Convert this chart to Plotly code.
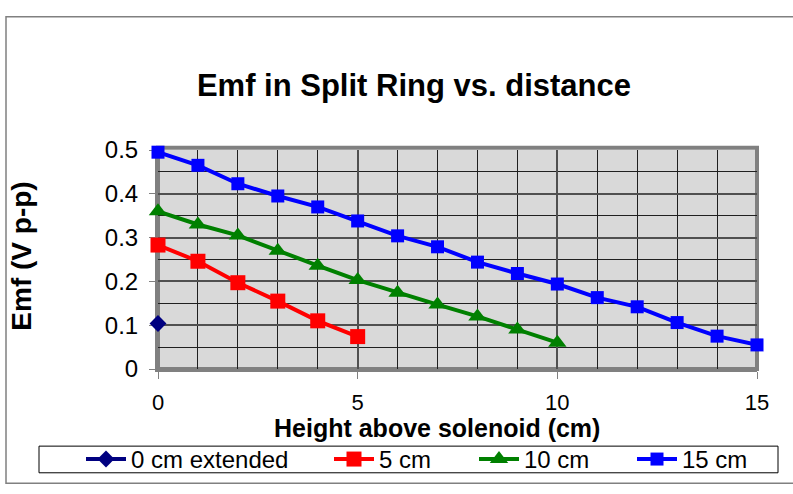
import plotly.graph_objects as go

heights_0 = [0]
emf_0 = [0.104]
heights_5 = [0, 1, 2, 3, 4, 5]
emf_5 = [0.283, 0.246, 0.197, 0.155, 0.11, 0.074]
heights_10 = [0, 1, 2, 3, 4, 5, 6, 7, 8, 9, 10]
emf_10 = [0.36, 0.33, 0.305, 0.27, 0.236, 0.203, 0.174, 0.147, 0.12, 0.09, 0.06]
heights_15 = [0, 1, 2, 3, 4, 5, 6, 7, 8, 9, 10, 11, 12, 13, 14, 15]
emf_15 = [0.495, 0.465, 0.423, 0.395, 0.37, 0.338, 0.304, 0.279, 0.244, 0.218, 0.194, 0.163, 0.142, 0.106, 0.075, 0.055]

x_ticks = [0, 5, 10, 15]
y_ticks = [0, 0.1, 0.2, 0.3, 0.4, 0.5]
y_tick_labels = ["0", "0.1", "0.2", "0.3", "0.4", "0.5"]

names = ["0 cm extended", "5 cm", "10 cm", "15 cm"]
colors = ["#000080", "#FF0000", "#008000", "#0000FF"]
symbols = ["diamond", "square", "triangle-up", "square"]
sizes = [13, 15, 16, 13]
xs = [heights_0, heights_5, heights_10, heights_15]
ys = [emf_0, emf_5, emf_10, emf_15]
legend_ids = ["legend", "legend2", "legend3", "legend4"]
legend_left_px = [81, 329, 474, 632]

W, H = 793, 494
L, R, T, B = 158, 36, 150, 114
PW, PH = W - L - R, H - T - B


def px_x(v):
    return (v - L) / PW


def px_y(v):
    return (H - B - v) / PH


fig = go.Figure()
for n, c, s, sz, x, y, lg in zip(names, colors, symbols, sizes, xs, ys, legend_ids):
    fig.add_trace(go.Scatter(
        x=x, y=y, name=n, mode="lines+markers", legend=lg, cliponaxis=False,
        line=dict(color=c, width=4),
        marker=dict(color=c, symbol=s, size=sz),
    ))

legend_common = dict(orientation="h", yanchor="middle", y=px_y(475), xanchor="left",
                     borderwidth=0, bgcolor="rgba(0,0,0,0)",
                     font=dict(size=24), itemwidth=40)
layout_legends = {}
for lg, lx in zip(legend_ids, legend_left_px):
    layout_legends[lg] = dict(legend_common, x=px_x(lx))

fig.update_layout(
    width=W, height=H,
    margin=dict(l=L, r=R, t=T, b=B),
    paper_bgcolor="white",
    plot_bgcolor="#D9D9D9",
    font=dict(family="Liberation Sans, Arial, sans-serif", color="black"),
    title=dict(text="<b>Emf in Split Ring vs. distance</b>", x=0.522, xanchor="center",
               y=0.828, yanchor="middle", font=dict(size=31)),
    showlegend=True,
    **layout_legends,
)

fig.update_xaxes(
    range=[0, 15], tickmode="array", tickvals=x_ticks, ticktext=[str(v) for v in x_ticks],
    ticks="outside", ticklen=7, tickcolor="#808080", tickfont=dict(size=22),
    ticklabelstandoff=5, layer="below traces",
    showgrid=True, gridcolor="#505050", gridwidth=2,
    minor=dict(dtick=1, showgrid=True, gridcolor="#202020", gridwidth=1),
    showline=True, linecolor="#808080", linewidth=3,
    zeroline=False,
)
fig.update_yaxes(
    range=[0, 0.5], tickmode="array", tickvals=y_ticks, ticktext=y_tick_labels,
    ticks="outside", ticklen=6, tickcolor="#808080", tickfont=dict(size=24),
    ticklabelstandoff=6, layer="below traces",
    showgrid=True, gridcolor="#505050", gridwidth=2,
    minor=dict(dtick=0.05, showgrid=True, gridcolor="#202020", gridwidth=1),
    showline=True, linecolor="#808080", linewidth=3,
    zeroline=False,
)

fig.add_annotation(text="<b>Height above solenoid (cm)</b>", xref="paper", yref="paper",
                   x=px_x(437), y=px_y(442), xanchor="center", yanchor="middle",
                   showarrow=False, font=dict(size=25))
fig.add_annotation(text="<b>Emf (V p-p)</b>", xref="paper", yref="paper",
                   x=px_x(22), y=px_y(262), xanchor="center", yanchor="middle",
                   textangle=-90, showarrow=False, font=dict(size=28))

fig.add_shape(type="rect", xref="paper", yref="paper", x0=0, x1=1, y0=0, y1=1.01,
              line=dict(color="#808080", width=4), layer="between")
fig.add_shape(type="rect", xref="paper", yref="paper",
              x0=px_x(6), x1=px_x(800), y0=px_y(500), y1=px_y(10),
              line=dict(color="#808080", width=1.5), layer="below")
fig.add_shape(type="rect", xref="paper", yref="paper",
              x0=px_x(39), x1=px_x(778), y0=px_y(489), y1=px_y(461),
              line=dict(color="black", width=1), layer="below")

fig.write_html("out.html")
